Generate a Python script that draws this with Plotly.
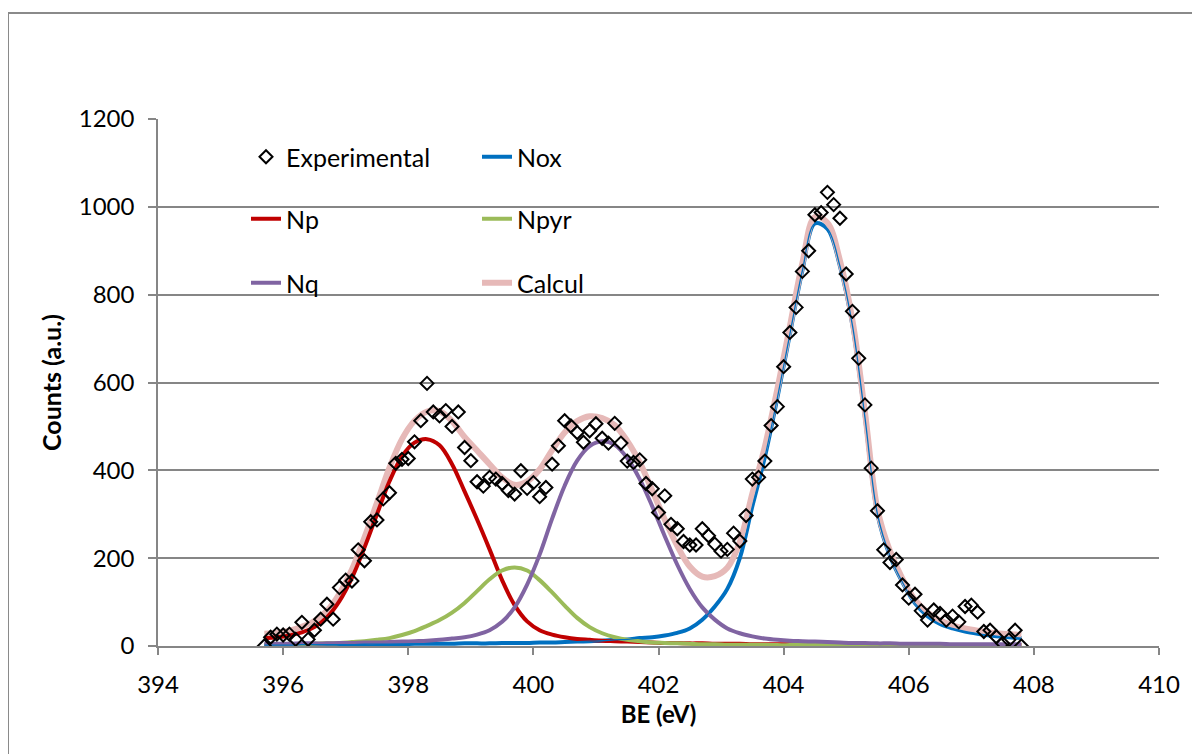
import plotly.graph_objects as go

# ---------------- data ----------------
BE_EXP = [395.7, 395.8, 395.9, 396.0, 396.1, 396.2, 396.3, 396.4, 396.5, 396.6,
          396.7, 396.8, 396.9, 397.0, 397.1, 397.2, 397.3, 397.4, 397.5, 397.6,
          397.7, 397.8, 397.9, 398.0, 398.1, 398.2, 398.3, 398.4, 398.5, 398.6,
          398.7, 398.8, 398.9, 399.0, 399.1, 399.2, 399.3, 399.4, 399.5, 399.6,
          399.7, 399.8, 399.9, 400.0, 400.1, 400.2, 400.3, 400.4, 400.5, 400.6,
          400.7, 400.8, 400.9, 401.0, 401.1, 401.2, 401.3, 401.4, 401.5, 401.6,
          401.7, 401.8, 401.9, 402.0, 402.1, 402.2, 402.3, 402.4, 402.5, 402.6,
          402.7, 402.8, 402.9, 403.0, 403.1, 403.2, 403.3, 403.4, 403.5, 403.6,
          403.7, 403.8, 403.9, 404.0, 404.1, 404.2, 404.3, 404.4, 404.5, 404.6,
          404.7, 404.8, 404.9, 405.0, 405.1, 405.2, 405.3, 405.4, 405.5, 405.6,
          405.7, 405.8, 405.9, 406.0, 406.1, 406.2, 406.3, 406.4, 406.5, 406.6,
          406.7, 406.8, 406.9, 407.0, 407.1, 407.2, 407.3, 407.4, 407.5, 407.6,
          407.7, 407.8]
COUNTS_EXP = [0, 20, 27, 25, 27, 15, 54, 15, 36, 61,
              95, 61, 133, 150, 148, 219, 194, 283, 287, 335,
              349, 416, 425, 427, 465, 513, 598, 533, 524, 536,
              500, 533, 452, 422, 374, 364, 384, 380, 370, 354,
              346, 399, 359, 372, 340, 361, 414, 456, 513, 501,
              486, 464, 490, 506, 473, 462, 507, 462, 421, 418,
              424, 370, 358, 304, 342, 277, 267, 238, 230, 230,
              267, 251, 232, 216, 220, 257, 239, 297, 380, 384,
              421, 502, 545, 636, 714, 771, 853, 900, 982, 987,
              1033, 1005, 974, 847, 762, 655, 549, 405, 308, 219,
              190, 197, 139, 109, 118, 80, 59, 82, 74, 59,
              68, 55, 90, 93, 77, 33, 36, 21, 6, 14,
              36, 0]

BE_FIT = [395.7, 395.9, 396.1, 396.3, 396.5, 396.7, 396.9, 397.1, 397.3, 397.5,
          397.7, 397.9, 398.1, 398.3, 398.5, 398.7, 398.9, 399.1, 399.3, 399.5,
          399.7, 399.9, 400.1, 400.3, 400.5, 400.7, 400.9, 401.1, 401.3, 401.5,
          401.7, 401.9, 402.1, 402.3, 402.5, 402.7, 402.9, 403.1, 403.3, 403.5,
          403.7, 403.9, 404.1, 404.3, 404.5, 404.7, 404.9, 405.1, 405.3, 405.5,
          405.7, 405.9, 406.1, 406.3, 406.5, 406.7, 406.9, 407.1, 407.3, 407.5,
          407.7, 407.8]
NOX = [2, 2, 2, 3, 3, 3, 3, 3, 4, 4,
       4, 4, 5, 5, 5, 5, 6, 6, 6, 7,
       7, 7, 8, 8, 9, 10, 11, 12, 14, 15,
       18, 20, 24, 30, 40, 60, 90, 130, 200, 318,
       430, 565, 710, 855, 962, 950, 865, 730, 520, 300,
       205, 145, 97, 68, 50, 40, 33, 28, 24, 21,
       19, 18]
NP = [18, 20, 24, 31, 43, 65, 102, 155, 224, 300,
      375, 432, 463, 471, 457, 414, 352, 288, 220, 150,
      93, 56, 36, 26, 20, 16, 14, 12, 11, 10,
      9, 8, 7, 7, 6, 6, 5, 5, 5, 4,
      4, 4, 4, 4, 3, 3, 3, 3, 3, 3,
      3, 2, 2, 2, 2, 2, 2, 2, 2, 2,
      2, 2]
NPYR = [3, 3, 4, 4, 5, 6, 7, 9, 11, 14,
        18, 25, 34, 46, 59, 76, 98, 125, 152, 172,
        179, 172, 150, 122, 92, 64, 43, 29, 20, 14,
        11, 8, 7, 6, 5, 4, 4, 3, 3, 3,
        3, 2, 2, 2, 2, 2, 2, 2, 2, 2,
        2, 1, 1, 1, 1, 1, 1, 1, 1, 1,
        1, 1]
NQ = [5, 5, 5, 6, 6, 6, 7, 7, 8, 8,
      9, 10, 11, 12, 14, 17, 20, 26, 36, 55,
      88, 140, 208, 290, 365, 422, 455, 466, 458, 428,
      380, 318, 250, 185, 130, 88, 60, 40, 29, 22,
      17, 14, 12, 11, 10, 9, 8, 7, 7, 6,
      6, 5, 5, 5, 5, 4, 4, 4, 4, 4,
      4, 4]
CALCUL = [28, 30, 35, 44, 57, 80, 119, 174, 247, 326,
          406, 471, 513, 534, 535, 512, 476, 445, 414, 384,
          367, 375, 402, 446, 486, 512, 523, 519, 503, 467,
          418, 354, 288, 228, 181, 158, 159, 178, 237, 347,
          454, 585, 728, 872, 977, 964, 878, 742, 532, 311,
          216, 153, 105, 76, 58, 47, 40, 35, 31, 28,
          26, 25]

X_TICKS = [394, 396, 398, 400, 402, 404, 406, 408, 410]
Y_TICKS = [0, 200, 400, 600, 800, 1000, 1200]

C_NOX = "#0070C0"
C_NP = "#C00000"
C_NPYR = "#9BBB59"
C_NQ = "#8064A2"
C_CALC = "#E6B9B8"
GRID = "#868686"
FONT = "Lato"

fig = go.Figure()

fig.add_trace(go.Scatter(x=BE_FIT, y=NOX, mode="lines", name="Nox",
                         line=dict(color=C_NOX, width=4, shape="spline"),
                         legend="legend", legendrank=2))
fig.add_trace(go.Scatter(x=BE_FIT, y=CALCUL, mode="lines", name="Calcul",
                         line=dict(color=C_CALC, width=6, shape="spline"),
                         legend="legend3", legendrank=2))
fig.add_trace(go.Scatter(x=BE_FIT, y=NP, mode="lines", name="Np",
                         line=dict(color=C_NP, width=4, shape="spline"),
                         legend="legend2", legendrank=1))
fig.add_trace(go.Scatter(x=BE_FIT, y=NPYR, mode="lines", name="Npyr",
                         line=dict(color=C_NPYR, width=4, shape="spline"),
                         legend="legend2", legendrank=2))
fig.add_trace(go.Scatter(x=BE_FIT, y=NQ, mode="lines", name="Nq",
                         line=dict(color=C_NQ, width=4, shape="spline"),
                         legend="legend3", legendrank=1))
fig.add_trace(go.Scatter(x=BE_FIT, y=NOX, mode="lines", name="Nox",
                         line=dict(color=C_NOX, width=1.3, shape="spline"),
                         showlegend=False, hoverinfo="skip"))
fig.add_trace(go.Scatter(x=BE_EXP, y=COUNTS_EXP, mode="markers", name="Experimental",
                         marker=dict(symbol="diamond-open", size=10, color="black",
                                     line=dict(color="black", width=2)),
                         legend="legend", legendrank=1))

# page body has an 8 px margin: figure coordinates = screen coordinates - 8
OFF = 8
W, H = 1200 - OFF, 754 - OFF
PL, PR, PT, PB = 158 - OFF, 1159 - OFF, 119 - OFF, 646 - OFF
pw, ph = PR - PL, PB - PT

def px_x(p):
    return (p - OFF - PL) / pw

def px_y(p):
    return (PB - (p - OFF)) / ph

leg_common = dict(orientation="h", xanchor="left", yanchor="middle",
                  entrywidth=186, entrywidthmode="pixels",
                  bgcolor="rgba(0,0,0,0)", traceorder="normal",
                  font=dict(family=FONT, size=25, color="black"))

fig.update_layout(
    width=W, height=H,
    margin=dict(l=PL, r=W - PR, t=PT, b=H - PB),
    paper_bgcolor="white", plot_bgcolor="white",
    font=dict(family=FONT, size=24, color="black"),
    showlegend=True,
    legend=dict(x=px_x(246), y=px_y(157), **leg_common),
    legend2=dict(x=px_x(246), y=px_y(219), **leg_common),
    legend3=dict(x=px_x(246), y=px_y(283), **leg_common),
    xaxis=dict(range=[394, 410], tickvals=X_TICKS, ticktext=[str(v) for v in X_TICKS],
               showgrid=False, zeroline=False, showline=True, linecolor=GRID, linewidth=1.5,
               ticks="outside", ticklen=7, tickcolor=GRID, tickwidth=1.5,
               ticklabelstandoff=9,
               tickfont=dict(family=FONT, size=24, color="black"),
               title=dict(text="<b>BE (eV)</b>", font=dict(family=FONT, size=24, color="black"),
                          standoff=10)),
    yaxis=dict(range=[0, 1200], tickvals=Y_TICKS, ticktext=[str(v) for v in Y_TICKS],
               showgrid=True, gridcolor=GRID, gridwidth=1.5,
               zeroline=False, showline=True, linecolor=GRID, linewidth=1.5,
               ticks="outside", ticklen=8, tickcolor=GRID, tickwidth=1.5,
               ticklabelstandoff=9,
               tickfont=dict(family=FONT, size=24, color="black"),
               title=dict(text="<b>Counts (a.u.)</b>", font=dict(family=FONT, size=25, color="black"),
                          standoff=10)),
    shapes=[dict(type="rect", xref="paper", yref="paper",
                 x0=px_x(8), y0=px_y(900), x1=px_x(1300), y1=px_y(13),
                 line=dict(color="#8A8A8A", width=2), fillcolor="rgba(0,0,0,0)",
                 layer="below")],
)

fig.write_html("out.html")
